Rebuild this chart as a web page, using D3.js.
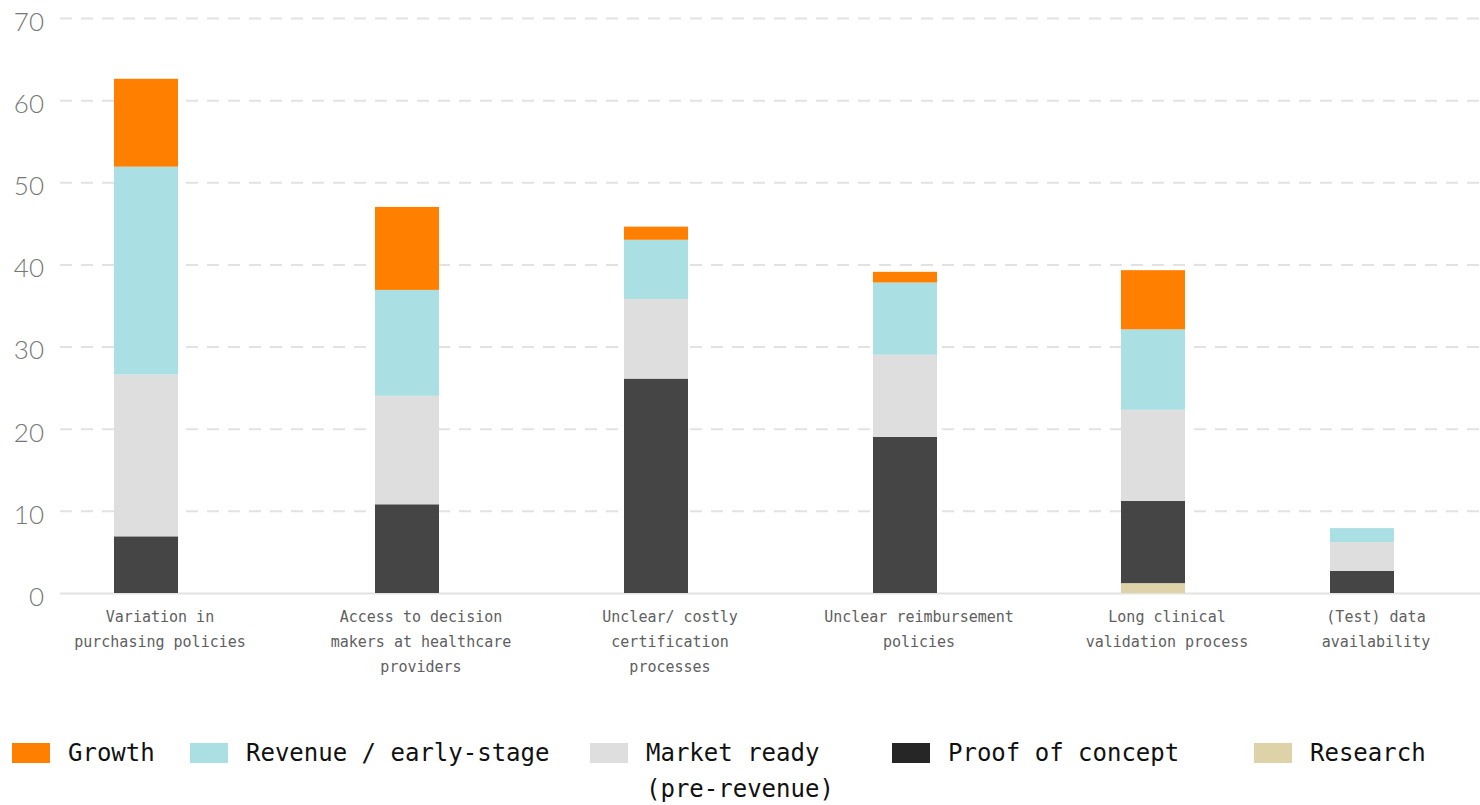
<!DOCTYPE html>
<html>
<head>
<meta charset="utf-8">
<script src="https://cdn.jsdelivr.net/npm/d3@7"></script>
<style>
  body { margin: 0; background: #fff; }
  svg { display: block; }
</style>
</head>
<body>
<div id="chart"></div>
<script>
// categories, as they wrap under the bars
var categories = [
    "Variation in purchasing policies",
    "Access to decision makers at healthcare providers",
    "Unclear/ costly certification processes",
    "Unclear reimbursement policies",
    "Long clinical validation process",
    "(Test) data availability"
];
var labelLines = [
    ["Variation in", "purchasing policies"],
    ["Access to decision", "makers at healthcare", "providers"],
    ["Unclear/ costly", "certification", "processes"],
    ["Unclear reimbursement", "policies"],
    ["Long clinical", "validation process"],
    ["(Test) data", "availability"]
];

// series, bottom to top
var research       = [0, 0, 0, 0, 1.2, 0];
var proofOfConcept = [6.9, 10.8, 26.1, 19.0, 10.0, 2.7];
var marketReady    = [19.7, 13.2, 9.7, 10.0, 11.1, 3.5];
var revenue        = [25.3, 12.9, 7.2, 8.8, 9.8, 1.7];
var growth         = [10.7, 10.1, 1.6, 1.3, 7.2, 0];

var yTicks = [0, 10, 20, 30, 40, 50, 60, 70];

var keys = ["research", "poc", "market", "revenue", "growth"];
var legendLabels = {
    growth: ["Growth"],
    revenue: ["Revenue / early-stage"],
    market: ["Market ready", "(pre-revenue)"],
    poc: ["Proof of concept"],
    research: ["Research"]
};
var barColors = {
    research: "#ded3a8",
    poc: "#454545",
    market: "#dedede",
    revenue: "#aae0e3",
    growth: "#ff8000"
};
var swatchColors = {
    research: "#ded3a8",
    poc: "#262626",
    market: "#dedede",
    revenue: "#aae0e3",
    growth: "#ff8000"
};

var svgWidth = 1480;
var svgHeight = 805;

var rows = categories.map(function (c, i) {
    return {
        category: c,
        research: research[i],
        poc: proofOfConcept[i],
        market: marketReady[i],
        revenue: revenue[i],
        growth: growth[i]
    };
});

var svg = d3.select("#chart")
    .append("svg")
    .attr("width", svgWidth)
    .attr("height", svgHeight);

/// scales
var yScale = d3.scaleLinear()
    .domain([0, 70])
    .range([593, 18]);

var xScale = d3.scaleOrdinal()
    .domain(categories)
    .range([146, 407, 656, 905, 1153, 1362]);

var barWidth = 64;
var labelShift = 14;

/// gridlines and y labels
var yAxis = d3.axisLeft(yScale)
    .tickValues(yTicks)
    .tickSize(-(svgWidth - 60))
    .tickPadding(16);

var yG = svg.append("g")
    .attr("transform", "translate(60,0)")
    .call(yAxis);

yG.select(".domain").remove();
yG.selectAll(".tick line")
    .attr("stroke", "#e2e2e2")
    .attr("stroke-width", 2)
    .attr("stroke-dasharray", d => d === 0 ? null : "12,9");
yG.selectAll(".tick text")
    .attr("fill", "#777")
    .attr("font-family", "Lato")
    .attr("font-weight", 300)
    .attr("font-size", 26)
    .attr("y", 4);

/// stacked bars
var stacked = d3.stack().keys(keys)(rows);

var layers = svg.selectAll(".layer")
    .data(stacked)
    .enter()
    .append("g")
    .attr("class", "layer")
    .attr("fill", d => barColors[d.key]);

layers.selectAll("rect")
    .data(d => d)
    .enter()
    .append("rect")
    .attr("x", d => xScale(d.data.category) - barWidth / 2)
    .attr("y", d => yScale(d[1]))
    .attr("width", barWidth)
    .attr("height", d => Math.max(0, yScale(d[0]) - yScale(d[1])));

/// x labels
var xLabels = svg.append("g")
    .selectAll("text")
    .data(categories)
    .enter()
    .append("text")
    .attr("text-anchor", "middle")
    .attr("font-family", "DejaVu Sans Mono")
    .attr("font-size", 15)
    .attr("fill", "#606060");

xLabels.each(function (c, i) {
    var t = d3.select(this);
    labelLines[i].forEach(function (line, j) {
        t.append("tspan")
            .attr("x", xScale(c) + labelShift)
            .attr("y", 622 + j * 25)
            .text(line);
    });
});

/// legend
var legendOrder = ["growth", "revenue", "market", "poc", "research"];
var legendX = d3.scaleOrdinal()
    .domain(legendOrder)
    .range([12, 190, 590, 892, 1254]);

var legend = svg.append("g")
    .selectAll("g")
    .data(legendOrder)
    .enter()
    .append("g")
    .attr("transform", d => `translate(${legendX(d)}, 743)`);

legend.append("rect")
    .attr("width", 38)
    .attr("height", 20)
    .attr("fill", d => swatchColors[d]);

legend.append("text")
    .attr("font-family", "DejaVu Sans Mono")
    .attr("font-size", 24)
    .attr("fill", "#111")
    .each(function (d) {
        var t = d3.select(this);
        legendLabels[d].forEach(function (line, j) {
            t.append("tspan")
                .attr("x", 56)
                .attr("y", 18 + j * 36)
                .text(line);
        });
    });
</script>
</body>
</html>
